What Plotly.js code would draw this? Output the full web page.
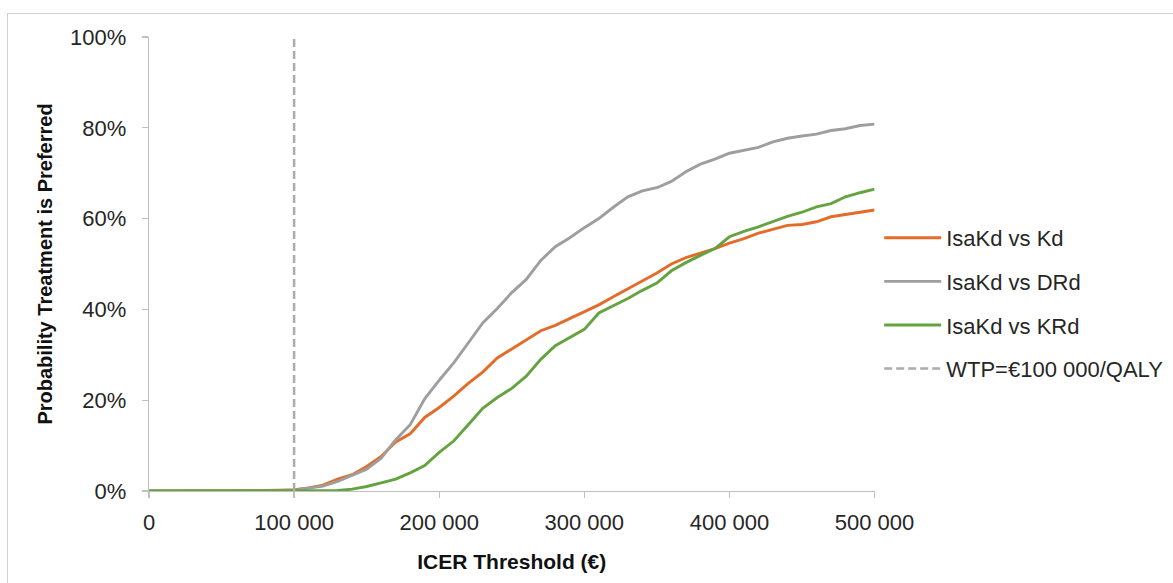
<!DOCTYPE html>
<html>
<head>
<meta charset="utf-8">
<script src="https://cdn.plot.ly/plotly-3.0.1.min.js"></script>
<style>
html,body{margin:0;padding:0;background:#fff;overflow:hidden;}
#chart{position:absolute;left:0;top:0;width:1173px;height:583px;}
#frame{position:absolute;left:7px;top:13px;width:1200px;height:620px;border:1px solid #d0d0d0;pointer-events:none;}
</style>
</head>
<body>
<div id="frame"></div>
<div id="chart"></div>
<script>
// ICER thresholds (€)
const thresholds = [0,10000,20000,30000,40000,50000,60000,70000,80000,90000,
  100000,110000,120000,130000,140000,150000,160000,170000,180000,190000,
  200000,210000,220000,230000,240000,250000,260000,270000,280000,290000,
  300000,310000,320000,330000,340000,350000,360000,370000,380000,390000,
  400000,410000,420000,430000,440000,450000,460000,470000,480000,490000,500000];

// Probability (%) treatment is preferred
const isaKdVsKd = [0,0,0,0,0,0,0,0.1,0.1,0.2,
  0.3,0.7,1.3,2.6,3.6,5.4,7.6,10.8,12.6,16.2,
  18.4,20.9,23.7,26.2,29.3,31.3,33.3,35.3,36.5,38.0,
  39.6,41.0,42.8,44.5,46.2,48.0,50.0,51.4,52.4,53.4,
  54.6,55.6,56.8,57.6,58.5,58.7,59.3,60.4,60.9,61.4,61.9];

const isaKdVsDRd = [0,0,0,0,0,0,0,0,0,0,
  0.2,0.6,1.1,2.1,3.4,4.8,7.2,11.3,14.6,20.3,
  24.4,28.2,32.6,37.0,40.2,43.7,46.6,50.8,53.8,55.8,
  58.0,60.0,62.5,64.8,66.1,66.8,68.2,70.3,72.0,73.1,
  74.4,75.0,75.7,76.9,77.7,78.2,78.6,79.4,79.8,80.5,80.8];

const isaKdVsKRd = [0,0,0,0,0,0,0,0,0,0,
  0,0,0,0.1,0.4,1.0,1.8,2.6,4.0,5.6,
  8.5,11.0,14.6,18.2,20.6,22.6,25.3,29.0,32.0,33.8,
  35.6,39.2,40.8,42.4,44.2,45.8,48.5,50.3,51.9,53.4,
  56.0,57.2,58.2,59.3,60.5,61.4,62.6,63.3,64.8,65.7,66.5];

// Willingness-to-pay threshold line
const wtpX = [100000, 100000];
const wtpY = [0, 100];

const seriesNames = ['IsaKd vs Kd', 'IsaKd vs DRd', 'IsaKd vs KRd', 'WTP=€100 000/QALY'];
const xTicks = [0, 100000, 200000, 300000, 400000, 500000];
const yTicks = [0, 20, 40, 60, 80, 100];

const pct = a => a.map(v => v / 100);

const traces = [
  {x: thresholds, y: pct(isaKdVsKd), name: seriesNames[0], legendgroup: 'a', type: 'scatter', mode: 'lines',
   line: {color: '#E46C2A', width: 2.9}},
  {x: thresholds, y: pct(isaKdVsDRd), name: seriesNames[1], legendgroup: 'b', type: 'scatter', mode: 'lines',
   line: {color: '#9E9E9E', width: 2.9}},
  {x: thresholds, y: pct(isaKdVsKRd), name: seriesNames[2], legendgroup: 'c', type: 'scatter', mode: 'lines',
   line: {color: '#64A33F', width: 2.9}},
  {x: wtpX, y: pct(wtpY), name: seriesNames[3], legendgroup: 'd', type: 'scatter', mode: 'lines',
   line: {color: '#ABABAB', width: 2.5, dash: '8px,4px'}}
];

const fam = 'Liberation Sans, Arial, sans-serif';
const tickFont = {family: fam, size: 22, color: '#262626'};

const layout = {
  width: 1173, height: 583,
  margin: {l: 149, r: 5, t: 37, b: 92},
  paper_bgcolor: 'rgba(0,0,0,0)',
  plot_bgcolor: 'rgba(0,0,0,0)',
  separators: '. ',
  showlegend: true,
  xaxis: {
    domain: [0, 0.7134],
    range: [0, 500000], tickvals: xTicks, tickformat: ',d',
    showgrid: false, zeroline: false, showline: true, linecolor: '#BFBFBF', linewidth: 1.3,
    ticks: 'outside', ticklen: 6, tickcolor: '#BFBFBF', tickwidth: 1.3,
    ticklabelstandoff: 5,
    tickfont: tickFont, automargin: false,
    title: {text: '<b>ICER Threshold (€)</b>', font: {family: fam, size: 21, color: '#111'}, standoff: 20}
  },
  yaxis: {
    range: [0, 1], tickvals: pct(yTicks), tickformat: '.0%',
    showgrid: false, zeroline: false, showline: true, linecolor: '#BFBFBF', linewidth: 1.3,
    ticks: 'outside', ticklen: 6, tickcolor: '#BFBFBF', tickwidth: 1.3,
    ticklabelstandoff: 11,
    tickfont: tickFont, automargin: false,
    title: {text: '<b>Probability Treatment is Preferred</b>', font: {family: fam, size: 20, color: '#111'}, standoff: 12}
  },
  legend: {
    x: 0.718, xanchor: 'left', y: 0.413, yanchor: 'middle',
    font: {family: fam, size: 22, color: '#262626'},
    traceorder: 'grouped', tracegroupgap: 12, itemwidth: 57,
    bgcolor: 'rgba(0,0,0,0)'
  }
};

Plotly.newPlot('chart', traces, layout, {displayModeBar: false, staticPlot: true});
</script>
</body>
</html>
